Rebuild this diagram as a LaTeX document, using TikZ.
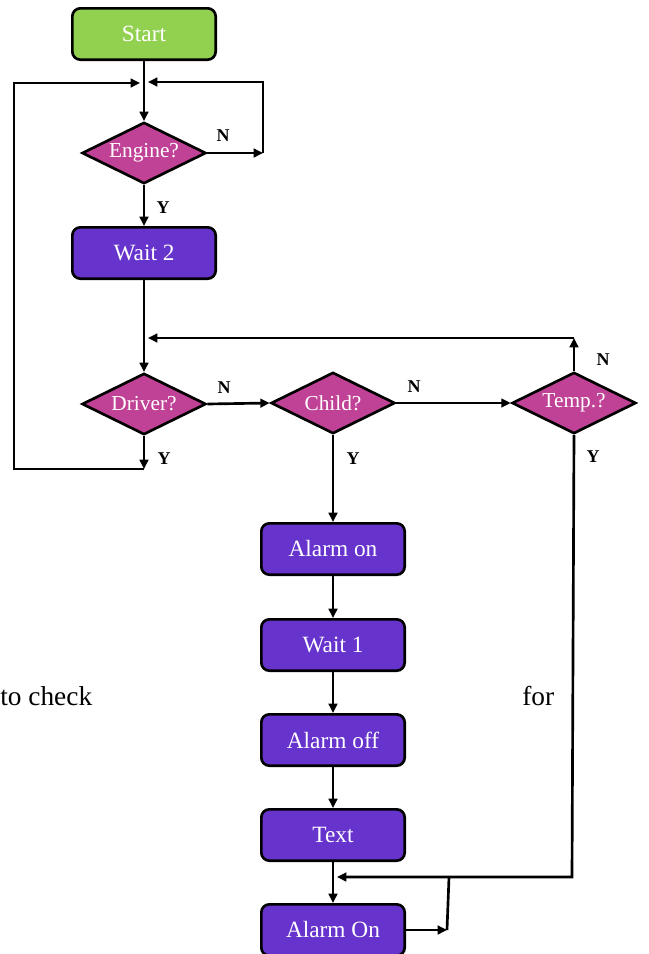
\documentclass[tikz,border=0pt]{standalone}
\usepackage{fontspec}
\setmainfont{Liberation Serif}
\usetikzlibrary{shapes.geometric,arrows.meta}
\definecolor{boxgreen}{RGB}{146,208,80}
\definecolor{boxpurple}{RGB}{102,51,204}
\definecolor{diamag}{RGB}{192,66,150}
\begin{document}
\begin{tikzpicture}[x=0.75pt,y=-0.75pt,
  line width=2pt,
  box/.style={draw=black, line width=2pt, rounded corners=6pt, minimum width=107.5pt, minimum height=38.5pt, inner sep=0pt, text=white, font=\fontsize{17.5}{20}\selectfont},
  startbox/.style={box, fill=boxgreen},
  actbox/.style={box, fill=boxpurple},
  dia/.style={draw=black, line width=2pt, shape=diamond, fill=diamag, minimum width=93pt, minimum height=46pt, inner sep=0pt},
  diatext/.style={text=white, font=\fontsize{16}{18}\selectfont, inner sep=0pt},
  yn/.style={font=\bfseries\fontsize{13.5}{15}\selectfont, inner sep=0pt},
  arr/.style={-{Triangle[length=7pt,width=6.5pt]}, line width=2pt},
  conn/.style={line width=2pt},
  body/.style={font=\fontsize{20.5}{24}\selectfont, inner sep=0pt}
]
\useasboundingbox (0,0) rectangle (649,954);

% nodes
\node[startbox] (start) at (144,34) {Start};
\node[dia, label={[diatext]center:Engine?}] (eng) at (144,153) {};
\node[actbox] (wait2) at (144,253) {Wait 2};
\node[dia, label={[diatext]center:Driver?}] (drv) at (144,404) {};
\node[dia, label={[diatext]center:Child?}] (chd) at (333,403) {};
\node[dia, label={[diatext]center:Temp.?}] (tmp) at (574,403) {};
\node[actbox] (aon) at (333,549) {Alarm on};
\node[actbox] (w1) at (333,645) {Wait 1};
\node[actbox] (aoff) at (333,740) {Alarm off};
\node[actbox] (txt) at (333,835) {Text};
\node[actbox] (aon2) at (333,930) {Alarm On};

% labels
\node[yn] (nEng) at (223,136) {N};
\node[yn] (yEng) at (163,208) {Y};
\node[yn] (nDrv) at (224,388) {N};
\node[yn] (yDrv) at (164,459) {Y};
\node[yn] (nChd) at (414,387) {N};
\node[yn] (yChd) at (353,459) {Y};
\node[yn] (nTmp) at (603,360) {N};
\node[yn] (yTmp) at (593,457) {Y};

\node[body, anchor=base west] (tocheck) at (-1,705) {to check};
\node[body, anchor=base west] (forw) at (521,705) {for};

% coordinates
\coordinate (j1l) at (140,83);
\coordinate (j1r) at (148,82);
\coordinate (engn) at (263,153);
\coordinate (engnt) at (263,82);
\coordinate (j2r) at (148,338);
\coordinate (tn) at (574,338);
\coordinate (dy) at (144,469);
\coordinate (lb) at (14,469);
\coordinate (lt) at (14,83);
\coordinate (tb) at (572,877);
\coordinate (tl) at (337,877);
\coordinate (ar) at (447,930);
\coordinate (art) at (449,877);

% connectors
\draw[arr] (start.south) -- (eng.north);
\draw[arr] (eng.east) -- (engn);
\draw[arr] (engn) -- (engnt) -- (j1r);
\draw[arr] (eng.south) -- (wait2.north);
\draw[arr] (wait2.south) -- (drv.north);
\draw[arr] (tmp.north) -- (tn);
\draw[arr] (tn) -- (j2r);
\draw[arr] (drv.east) -- (chd.west);
\draw[arr] (chd.east) -- (tmp.west);
\draw[arr] (drv.south) -- (dy);
\draw[arr] (dy) -- (lb) -- (lt) -- (j1l);
\draw[arr] (chd.south) -- (aon.north);
\draw[arr] (aon.south) -- (w1.north);
\draw[arr] (w1.south) -- (aoff.north);
\draw[arr] (aoff.south) -- (txt.north);
\draw[arr] (txt.south) -- (aon2.north);
\draw[arr] (tmp.south) -- (tb) -- (tl);
\draw[arr] (aon2.east) -- (ar);
\draw[conn] (ar) -- (art);
\end{tikzpicture}
\end{document}
